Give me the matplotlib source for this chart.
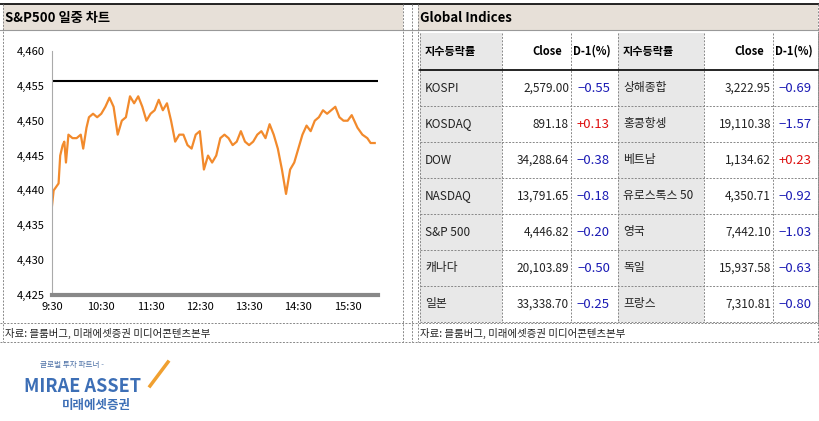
import matplotlib.pyplot as plt
from matplotlib.patches import Rectangle

plt.rcParams['font.family'] = ['Noto Sans CJK KR', 'DejaVu Sans']

# intraday S&P500 (minutes after 9:30, index level)
minutes = [0, 2, 5, 8, 10, 13, 15, 17, 20, 25, 30, 35, 38, 42, 45, 50, 55, 60, 65, 70,
           75, 80, 85, 90, 95, 100, 105, 110, 115, 120, 125, 130, 135, 140, 145, 150, 155,
           160, 165, 170, 175, 180, 185, 190, 195, 200, 205, 210, 215, 220, 225, 230, 235,
           240, 245, 250, 255, 260, 265, 270, 275, 280, 285, 290, 295, 300, 305, 310, 315,
           320, 325, 330, 335, 340, 345, 350, 355, 360, 365, 372, 378, 384, 388, 393]
spx = [4437.8, 4440.0, 4440.5, 4441.0, 4445.0, 4446.5, 4447.0, 4444.0, 4448.0, 4447.5,
       4447.5, 4448.0, 4446.0, 4449.0, 4450.5, 4451.0, 4450.5, 4451.0, 4452.0, 4453.3,
       4452.0, 4448.0, 4450.0, 4450.5, 4453.5, 4452.5, 4453.5, 4452.0, 4450.0, 4451.0,
       4451.5, 4453.0, 4451.5, 4452.5, 4450.0, 4447.0, 4448.0, 4448.0, 4446.5, 4446.0,
       4448.0, 4448.5, 4443.0, 4445.0, 4444.0, 4445.0, 4447.5, 4448.0, 4447.5, 4446.5,
       4447.0, 4448.5, 4447.0, 4446.5, 4447.0, 4448.0, 4448.5, 4447.5, 4449.5, 4448.0,
       4446.0, 4443.0, 4439.5, 4443.0, 4444.0, 4446.0, 4448.0, 4449.3, 4448.5, 4450.0,
       4450.5, 4451.5, 4451.0, 4451.5, 4452.0, 4450.5, 4450.0, 4450.0, 4450.8, 4449.0,
       4448.0, 4447.5, 4446.8, 4446.8]
prev_close = 4455.7
xtick_labels = ['9:30', '10:30', '11:30', '12:30', '13:30', '14:30', '15:30']
ytick_vals = [4425, 4430, 4435, 4440, 4445, 4450, 4455, 4460]

# table data
names_left = ['KOSPI', 'KOSDAQ', 'DOW', 'NASDAQ', 'S&P 500', '캐나다', '일본']
close_left = ['2,579.00', '891.18', '34,288.64', '13,791.65', '4,446.82', '20,103.89', '33,338.70']
chg_left = [-0.55, 0.13, -0.38, -0.18, -0.20, -0.50, -0.25]
names_right = ['상해종합', '홍콩항셍', '베트남', '유로스톡스 50', '영국', '독일', '프랑스']
close_right = ['3,222.95', '19,110.38', '1,134.62', '4,350.71', '7,442.10', '15,937.58', '7,310.81']
chg_right = [-0.69, -1.57, 0.23, -0.92, -1.03, -0.63, -0.80]

W, H = 820, 421
fig = plt.figure(figsize=(W / 100, H / 100), dpi=100)
bg = fig.add_axes([0, 0, 1, 1])
bg.set_xlim(0, W)
bg.set_ylim(H, 0)
bg.axis('off')

dash = dict(color='#888888', lw=0.7, ls=(0, (2, 1.5)))
# header bands
for x0, x1 in [(3, 403), (418, 818)]:
    bg.add_patch(Rectangle((x0, 4), x1 - x0, 26, fc='#e7e0d8', ec='none'))
bg.plot([0, W], [4, 4], color='black', lw=1.2)
bg.plot([0, W], [30, 30], color='#999999', lw=0.8)
bg.text(5, 18, 'S&P500 일중 차트', fontsize=9.5, fontweight='bold', va='center')
bg.text(420, 18, 'Global Indices', fontsize=9.5, fontweight='bold', va='center')
for x in [3, 403, 412, 418, 818]:
    bg.plot([x, x], [4, 342], **dash)
bg.plot([0, W], [323, 323], **dash)
bg.plot([0, W], [342, 342], **dash)
src = '자료: 블룸버그, 미래에셋증권 미디어콘텐츠본부'
bg.text(5, 333, src, fontsize=7.5, va='center', color='#222222')
bg.text(420, 333, src, fontsize=7.5, va='center', color='#222222')

# table
cols = [420, 502, 571, 618, 704, 773, 818]
top, head_h, row_h = 33, 37, 36
for c0, c1 in [(cols[0], cols[1]), (cols[3], cols[4])]:
    bg.add_patch(Rectangle((c0, top), c1 - c0, head_h + 7 * row_h, fc='#e8e8e8', ec='none'))
for x in cols:
    bg.plot([x, x], [top, top + head_h + 7 * row_h], **dash)
bg.plot([cols[0], cols[-1]], [top + head_h, top + head_h], color='black', lw=1.2)
for i in range(1, 8):
    y = top + head_h + i * row_h
    bg.plot([cols[0], cols[-1]], [y, y], **dash)
hy = top + head_h / 2
for c0, c1 in [(cols[0], cols[1]), (cols[3], cols[4])]:
    bg.text(c0 + 5, hy, '지수등락률', fontsize=8, fontweight='bold', va='center')
    bg.text(c1 + 60, hy, 'Close', fontsize=8, fontweight='bold', va='center', ha='right')
    bg.text(c1 + 71, hy, 'D-1(%)', fontsize=8, fontweight='bold', va='center')
for side, (names, closes, chgs) in enumerate([(names_left, close_left, chg_left),
                                              (names_right, close_right, chg_right)]):
    c0 = cols[side * 3]
    for i in range(7):
        y = top + head_h + (i + 0.5) * row_h
        bg.text(c0 + 5, y, names[i], fontsize=8.5, va='center', color='#222222')
        bg.text(cols[side * 3 + 2] - 2, y, closes[i], fontsize=8.5, va='center', ha='right', color='#222222')
        col = '#dd1111' if chgs[i] > 0 else '#1a1ab4'
        bg.text(cols[side * 3 + 2] + 39, y, f'{chgs[i]:+.2f}'.replace('-', '−'), fontsize=9.5,
                va='center', ha='right', color=col)

# logo
bg.text(40, 367, '글로벌 투자 파트너 -', fontsize=5.5, color='#4a6fa5')
bg.text(24, 387, 'MIRAE ASSET', fontsize=13, fontweight='bold', style='italic', color='#3d6fb6', va='center')
bg.text(62, 405, '미래에셋증권', fontsize=9, fontweight='bold', color='#3d6fb6', va='center')
bg.plot([150, 168], [386, 362], color='#f0a030', lw=2.5)

# chart
ax = fig.add_axes([52 / W, 1 - 295 / H, (378 - 52) / W, (295 - 51) / H])
ax.plot(minutes, spx, color='#f28a2c', lw=1.6)
ax.plot([0, 397], [prev_close, prev_close], color='black', lw=1.5)
ax.set_xlim(0, 397)
ax.set_ylim(4425, 4460)
ax.set_yticks(ytick_vals)
ax.set_yticklabels([f'{v:,}' for v in ytick_vals])
ax.set_xticks([i * 60 for i in range(7)])
ax.set_xticklabels(xtick_labels)
ax.tick_params(labelsize=8, length=0, pad=5)
for s in ['top', 'right']:
    ax.spines[s].set_visible(False)
ax.spines['left'].set_color('#aaaaaa')
ax.spines['bottom'].set_color('#888888')
ax.spines['bottom'].set_linewidth(3)

fig.savefig('out.png', dpi=100)
